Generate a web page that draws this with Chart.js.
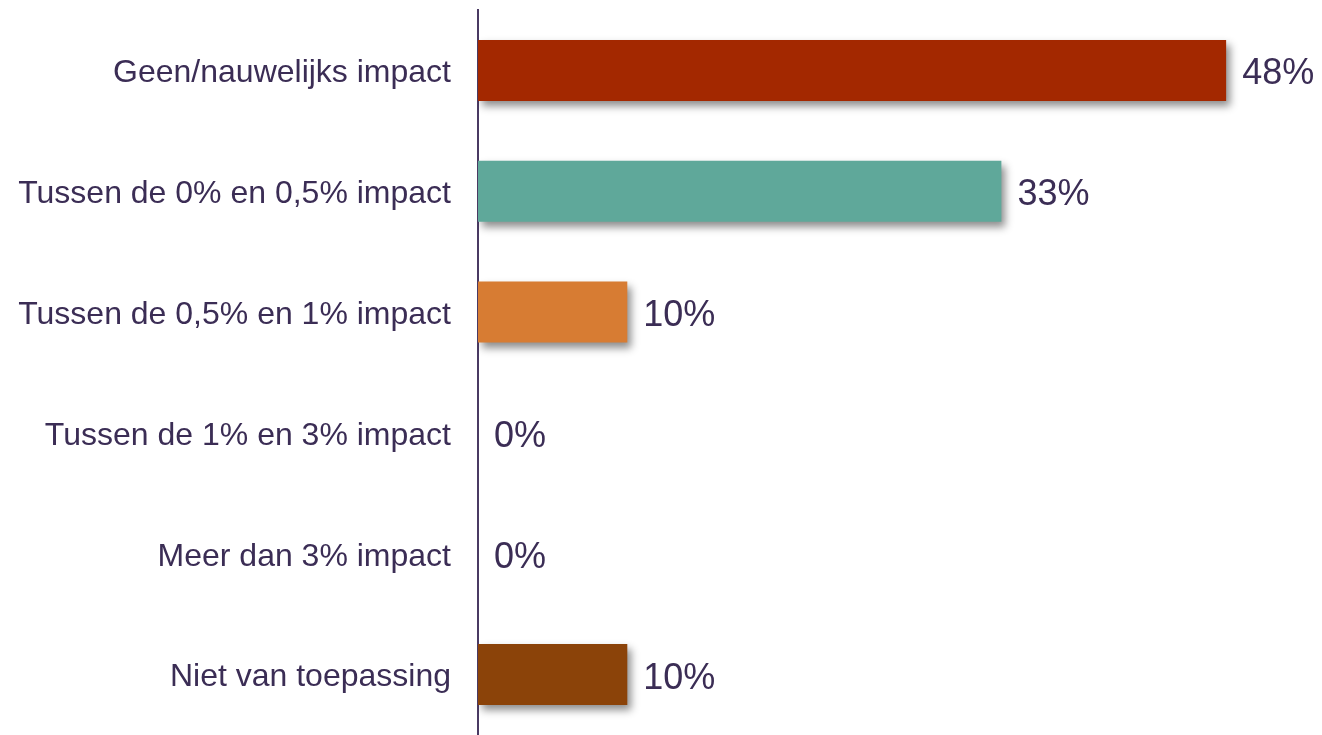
<!DOCTYPE html>
<html>
<head>
<meta charset="utf-8">
<script src="https://cdn.jsdelivr.net/npm/chart.js@4/dist/chart.umd.min.js"></script>
<style>
  html, body { margin: 0; padding: 0; background: #fff; }
  #wrap { width: 1322px; height: 735px; }
</style>
</head>
<body>
<div id="wrap"><canvas id="grafiek"></canvas></div>
<script>
// categorieen en waarden (aandeel respondenten, %)
const categorieen = [
    'Geen/nauwelijks impact',
    'Tussen de 0% en 0,5% impact',
    'Tussen de 0,5% en 1% impact',
    'Tussen de 1% en 3% impact',
    'Meer dan 3% impact',
    'Niet van toepassing'
];
const waarden = [47.6, 33.3, 9.5, 0, 0, 9.5];
const kleuren = ['#a32800', '#5fa89a', '#d77c33', '#d77c33', '#8b4309', '#8b4309'];

const tekstKleur = '#3b2d55';
const lettertype = '"Liberation Sans", Arial, sans-serif';

// schaduw onder de balken
const schaduwPlugin = {
    id: 'schaduw',
    beforeDatasetDraw(chart) {
        const ctx = chart.ctx;
        ctx.save();
        ctx.shadowColor = 'rgba(0,0,0,0.45)';
        ctx.shadowBlur = 8;
        ctx.shadowOffsetX = 4;
        ctx.shadowOffsetY = 5;
    },
    afterDatasetDraw(chart) {
        chart.ctx.restore();
    }
};

// percentages rechts van de balken
const labelPlugin = {
    id: 'waardeLabels',
    afterDatasetsDraw(chart) {
        const ctx = chart.ctx;
        const meta = chart.getDatasetMeta(0);
        ctx.save();
        ctx.font = '36px ' + lettertype;
        ctx.fillStyle = tekstKleur;
        ctx.textAlign = 'left';
        ctx.textBaseline = 'middle';
        meta.data.forEach(function(bar, i) {
            ctx.fillText(Math.round(waarden[i]) + '%', bar.x + 16, bar.y + 4);
        });
        ctx.restore();
    }
};

new Chart(document.getElementById('grafiek'), {
    type: 'bar',
    data: {
        labels: categorieen,
        datasets: [{
            data: waarden,
            backgroundColor: kleuren,
            borderWidth: 0,
            categoryPercentage: 1,
            barPercentage: 0.505
        }]
    },
    options: {
        indexAxis: 'y',
        responsive: true,
        maintainAspectRatio: false,
        animation: false,
        layout: { padding: { top: 10, right: 11, bottom: 0, left: 0 } },
        plugins: {
            legend: { display: false },
            tooltip: { enabled: false }
        },
        scales: {
            x: {
                display: false,
                min: 0,
                max: 53
            },
            y: {
                afterFit(scale) {
                    scale.width = 478;
                    scale.paddingTop = 0;
                    scale.paddingBottom = 0;
                },
                grid: { display: false, drawTicks: false },
                border: { display: true, color: '#4a3a63', width: 2 },
                ticks: {
                    color: tekstKleur,
                    padding: 27,
                    labelOffset: 3,
                    font: { size: 32, family: lettertype }
                }
            }
        }
    },
    plugins: [schaduwPlugin, labelPlugin]
});
</script>
</body>
</html>
